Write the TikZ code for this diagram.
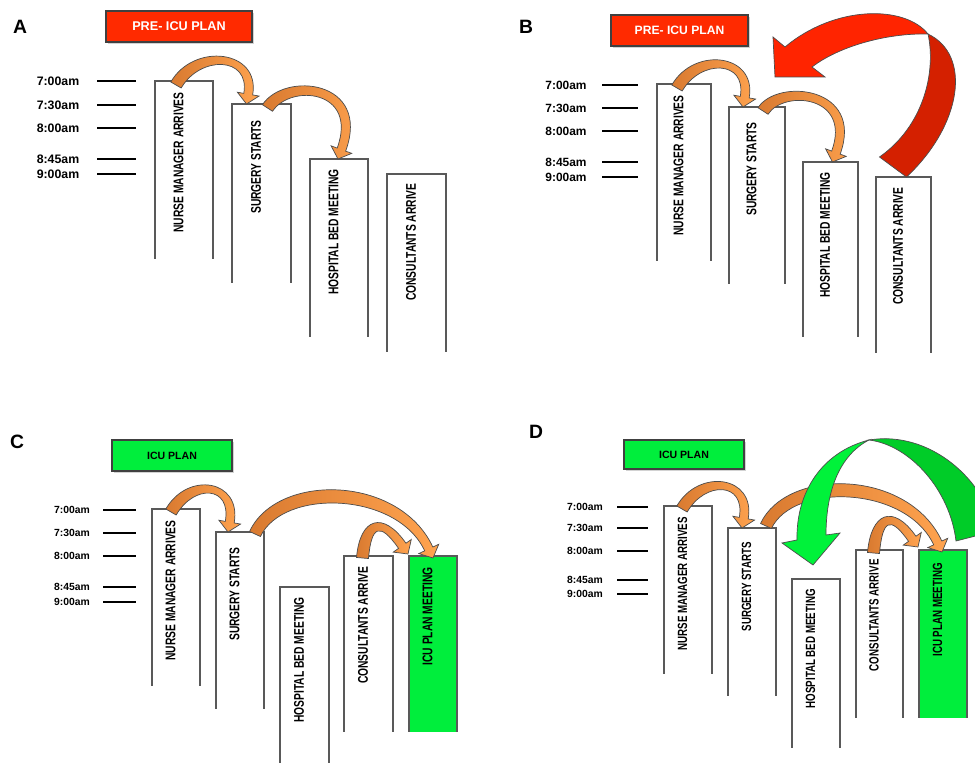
\documentclass[tikz,border=0pt]{standalone}
\usepackage{fontspec}
\setmainfont{Liberation Sans}
\newfontfamily\narrowsf[FakeStretch=0.73]{Liberation Sans}
\usetikzlibrary{calc,positioning,shadows}

\definecolor{plnred}{HTML}{FF2A00}
\definecolor{plngreen}{HTML}{00EE3C}
\definecolor{hopdark}{HTML}{D97A30}
\definecolor{hoplight}{HTML}{FFA34F}
\definecolor{ribbonred}{HTML}{FF2400}
\definecolor{ribbonreddark}{HTML}{D42000}
\definecolor{ribbongreen}{HTML}{00F23A}
\definecolor{ribbongreendark}{HTML}{00CC28}

\tikzset{
    every node/.style={font=\bfseries},
    panel label/.style={font=\bfseries\fontsize{11}{13}\selectfont},
    plan box/.style={draw=black!75, line width=0.6pt, minimum height=31*0.02cm,
        drop shadow={shadow xshift=1.2pt, shadow yshift=-1.2pt, opacity=0.35}},
    time label/.style={font=\bfseries\fontsize{7}{8}\selectfont},
    time tick/.style={line width=1pt},
    col box/.style={anchor=north west, inner sep=0pt, outer sep=0pt},
    col line/.style={draw=black!65, line width=0.6pt},
    col text/.style={rotate=90, anchor=east, inner sep=0pt,
        font=\narrowsf\bfseries\fontsize{8}{9}\selectfont},
    hop arrow/.style={left color=hopdark, right color=hoplight, draw=black!70, line width=0.4pt},
    ribbon/.style={draw=black!70, line width=0.4pt}
}

% open-bottom column with its rotated caption
\newcommand{\stepcol}[8][white]{%
    \node[col box, fill=#1, minimum width=#5*0.02cm, minimum height=#6*0.02cm] (#2) at (#3,-#4) {};
    \draw[col line] (#2.south west) |- (#2.north east) -- (#2.south east);
    \node[col text] (#2t) at ($(#2.north)+(-5.5,-#7)$) {#8};
}

% curved block arrow from one column top to the next
\newcommand{\hop}[6]{%
    \coordinate (hs) at #1;
    \coordinate (ht) at #3;
    \coordinate (hb) at ($(ht)+(#4+180:10)$);
    \path[hop arrow] ($(hs)+(#2+90:6)$) .. controls +(#2:#5) and +(#4+180:#6) .. ($(hb)+(#4+90:4.5)$)
        -- ($(hb)+(#4+90:11)$) -- (ht) -- ($(hb)+(#4-90:11)$) -- ($(hb)+(#4-90:4.5)$)
        .. controls +(#4+180:0.82*#6) and +(#2:0.82*#5) .. ($(hs)+(#2-90:6)$) -- cycle;
}

\begin{document}
\begin{tikzpicture}[x=0.02cm, y=0.02cm]
    \path[use as bounding box, clip] (0,0) rectangle (975,-763);
    \fill[white] (0,0) rectangle (975,-763);

    % A
    \node[panel label] (labA) at (20,-27) {A};
    \node[plan box, fill=plnred, text=white, minimum width=146*0.02cm,
        font=\bfseries\fontsize{7.2}{8}\selectfont] (planA) at (179,-26.5) {PRE- ICU PLAN};
    \foreach \ty/\tm [count=\i] in {81/7:00am,105/7:30am,128/8:00am,159/8:45am,174/9:00am}{
        \node[time label] (tA\i) at (58,-\ty) {\tm};
        \draw[time tick] (97,-\ty) -- (136,-\ty);
    }
    \stepcol{nurseA}{155}{81}{58}{178}{11}{NURSE MANAGER ARRIVES}
    \stepcol{surgA}{232}{104}{59}{179}{16}{SURGERY STARTS}
    \stepcol{bedA}{310}{159}{58}{178}{10}{HOSPITAL BED MEETING}
    \stepcol{consA}{387}{174}{59}{178}{9}{CONSULTANTS ARRIVE}
    \hop{($(nurseA.north)+(-8,-4)$)}{60}{($(surgA.north)+(-15,0)$)}{-100}{46}{46}
    \hop{($(surgA.north)+(6,-4)$)}{57}{($(bedA.north)+(-1,0)$)}{-110}{40}{76}

    % B
    \node[panel label] (labB) at (526,-27) {B};
    \node[plan box, fill=plnred, text=white, minimum width=137*0.02cm,
        font=\bfseries\fontsize{6.9}{8}\selectfont] (planB) at (679.5,-30.5) {PRE- ICU PLAN};
    \foreach \ty/\tm [count=\i] in {85/7:00am,108/7:30am,131/8:00am,162/8:45am,177/9:00am}{
        \node[time label, font=\bfseries\fontsize{6.8}{8}\selectfont] (tB\i) at (566,-\ty) {\tm};
        \draw[time tick] (602,-\ty) -- (638,-\ty);
    }
    \stepcol{nurseB}{657}{84}{54}{177}{11}{NURSE MANAGER ARRIVES}
    \stepcol{surgB}{729}{107}{56}{177}{15}{SURGERY STARTS}
    \stepcol{bedB}{803}{162}{55}{175}{10}{HOSPITAL BED MEETING}
    \stepcol{consB}{876}{177}{55}{176}{10}{CONSULTANTS ARRIVE}
    \hop{($(nurseB.north)+(-7,-4)$)}{60}{($(surgB.north)+(-14,0)$)}{-100}{45}{45}
    \hop{($(surgB.north)+(6,-4)$)}{57}{($(bedB.north)+(2,0)$)}{-110}{36}{72}
    % consultants back to the plan
    \path[ribbon, fill=ribbonreddark] ($(consB.north)+(3,0)$) .. controls (962,-125) and (972,-55) .. (928,-34)
        .. controls (936,-70) and (925,-125) .. ($(consB.north)+(-24,20)$) -- cycle;
    \path[ribbon, fill=ribbonred] (928,-34) .. controls (905,-5) and (835,-5) .. (785,-47)
        -- (773,-37) -- (775,-77) -- (825,-77) -- (812,-67)
        .. controls (838,-47) and (885,-33) .. (928,-34) -- cycle;

    % C
    \node[panel label] (labC) at (17,-442) {C};
    \node[plan box, fill=plngreen, minimum width=120*0.02cm,
        font=\bfseries\fontsize{6}{7}\selectfont] (planC) at (172,-455.5) {ICU PLAN};
    \foreach \ty/\tm [count=\i] in {510/7:00am,533/7:30am,556/8:00am,587/8:45am,602/9:00am}{
        \node[time label, font=\bfseries\fontsize{5.9}{7}\selectfont] (tC\i) at (72,-\ty) {\tm};
        \draw[time tick] (103,-\ty) -- (136,-\ty);
    }
    \stepcol{nurseC}{152}{509}{48}{177}{11}{NURSE MANAGER ARRIVES}
    \stepcol{surgC}{216}{532}{48}{177}{15}{SURGERY STARTS}
    \stepcol{bedC}{280}{587}{49}{176}{10}{HOSPITAL BED MEETING}
    \stepcol{consC}{344}{556}{49}{176}{10}{CONSULTANTS ARRIVE}
    \stepcol[plngreen]{icuC}{409}{556}{48}{176}{11}{ICU PLAN MEETING}
    \hop{($(nurseC.north)+(-5,-3)$)}{60}{($(surgC.north)+(-12,0)$)}{-100}{44}{44}
    \hop{($(surgC.north)+(15,-2)$)}{65}{($(icuC.north)+(0,-2)$)}{-65}{65}{80}
    \hop{($(consC.north)+(-6,-2)$)}{85}{($(icuC.north west)+(-1,2)$)}{-55}{40}{40}

    % D
    \node[panel label] (labD) at (536,-432) {D};
    \node[plan box, fill=plngreen, minimum width=120*0.02cm, minimum height=29*0.02cm,
        font=\bfseries\fontsize{6}{7}\selectfont] (planD) at (684,-454.5) {ICU PLAN};
    \foreach \ty/\tm [count=\i] in {507/7:00am,528/7:30am,551/8:00am,580/8:45am,594/9:00am}{
        \node[time label, font=\bfseries\fontsize{5.9}{7}\selectfont] (tD\i) at (585,-\ty) {\tm};
        \draw[time tick] (617,-\ty) -- (648,-\ty);
    }
    \begin{scope}[col text/.append style={font=\narrowsf\bfseries\fontsize{7.6}{9}\selectfont}]
    \stepcol{nurseD}{664}{506}{48}{168}{11}{NURSE MANAGER ARRIVES}
    \stepcol{surgD}{728}{528}{48}{168}{14}{SURGERY STARTS}
    \stepcol{bedD}{792}{579}{48}{169}{10}{HOSPITAL BED MEETING}
    \stepcol{consD}{856}{550}{47}{168}{9}{CONSULTANTS ARRIVE}
    \stepcol[plngreen]{icuD}{919}{550}{48}{168}{13}{ICU PLAN MEETING}
    \end{scope}
    \hop{($(nurseD.north)+(-6,-3)$)}{60}{($(surgD.north)+(-10,0)$)}{-100}{44}{44}
    \hop{($(surgD.north)+(14,2)$)}{65}{($(icuD.north)+(-1,-2)$)}{-65}{62}{80}
    \hop{($(consD.north)+(-6,-3)$)}{85}{($(icuD.north west)+(-1,3)$)}{-55}{40}{40}
    % plan meeting back to the bed meeting
    \path[ribbon, fill=ribbongreendark] ($(icuD.north east)+(-11,9)$) -- (995,-531)
        .. controls (985,-480) and (930,-430) .. (869,-440)
        .. controls (910,-445) and (950,-490) .. ($(icuD.north east)+(-11,9)$) -- cycle;
    \path[ribbon, fill=ribbongreen] (869,-440) .. controls (822,-452) and (796,-492) .. (797,-540)
        -- (782,-543) -- ($(bedD.north)+(-3,14)$) -- (840,-533) -- (826,-535)
        .. controls (826,-490) and (840,-455) .. (869,-440) -- cycle;
\end{tikzpicture}
\end{document}
